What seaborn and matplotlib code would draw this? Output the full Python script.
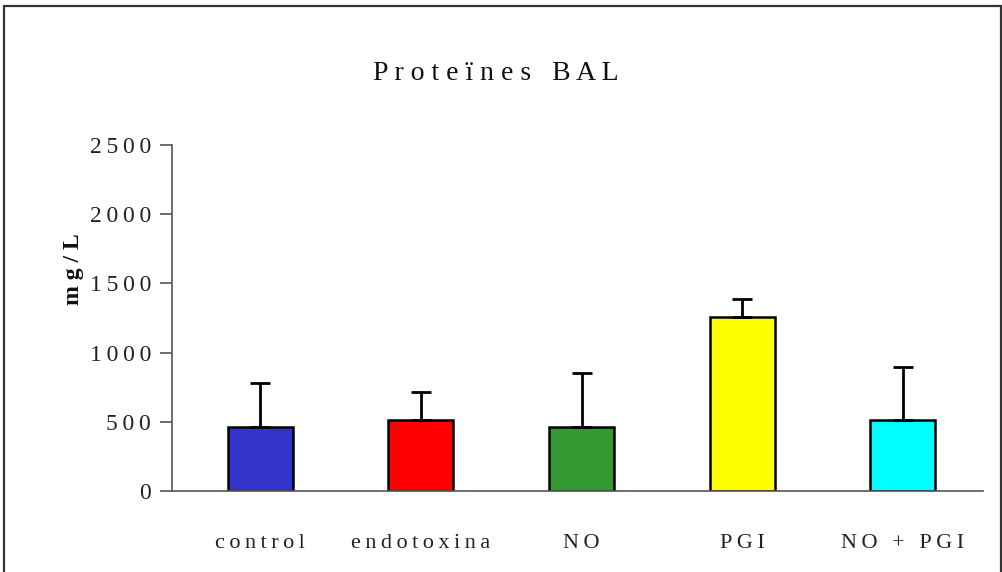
import matplotlib
matplotlib.use("Agg")
import matplotlib.pyplot as plt
from matplotlib.patches import Rectangle
import seaborn as sns
import pandas as pd

# Protein concentration in BAL fluid per treatment group (mean and SD)
groups = ["control", "endotoxina", "NO", "PGI", "NO+PGI"]
group_labels = ["control", "endotoxina", "NO", "PGI", "NO + PGI"]
means = [462, 513, 462, 1259, 515]
sds = [318, 202, 390, 128, 379]
colors = ["#3333CC", "#FF0000", "#339933", "#FFFF00", "#00FFFF"]
yticks = [0, 500, 1000, 1500, 2000, 2500]
title = "Proteïnes BAL"
ylabel = "mg/L"

THIN = "\u2009"


def spaced(text, gap=THIN):
    """Letter-spaced version of a label."""
    return gap.join(text)


sns.set_theme(style="white")
plt.rcParams["font.family"] = ["Liberation Serif", "DejaVu Serif"]

df = pd.DataFrame({"group": groups, "mean": means})

fig = plt.figure(figsize=(10.03, 5.72), dpi=100)
ax = fig.add_axes([172 / 1003, 81 / 572, 811 / 1003, 346 / 572])

sns.barplot(data=df, x="group", y="mean", hue="group", palette=colors,
            order=groups, hue_order=groups, legend=False, width=0.405,
            saturation=1, edgecolor="black", linewidth=1.8,
            errorbar=None, ax=ax)

ax.errorbar(range(len(groups)), means, yerr=[[0] * len(sds), sds],
            fmt="none", ecolor="black", elinewidth=2, capsize=7, capthick=2,
            zorder=1)

ax.set_xlim(-0.55, 4.5)
ax.set_ylim(0, 2500)
ax.set_yticks(yticks)
ax.set_yticklabels([spaced(str(v)) for v in yticks], fontsize=17,
                   color="#222222")
ax.set_xticks(range(len(groups)))
ax.set_xticklabels([spaced(g) for g in group_labels], fontsize=16,
                   color="#222222")
ax.tick_params(axis="x", length=0, pad=31)
ax.tick_params(axis="y", direction="out", length=9, width=1.2,
               color="#555555", pad=6, left=True)
ax.set_xlabel("")
ax.set_ylabel(spaced(ylabel, " "), fontsize=17, fontweight="bold",
              color="#111111")
ax.yaxis.set_label_coords(-0.108, 0.64)

for side in ["top", "right"]:
    ax.spines[side].set_visible(False)
for side in ["left", "bottom"]:
    ax.spines[side].set_color("#555555")
    ax.spines[side].set_linewidth(1.2)

fig.text(0.494, 1 - 73 / 572, spaced(title, " "), ha="center",
         va="center", fontsize=20, color="#111111")

# Outer frame around the chart area
fig.patches.append(Rectangle((4 / 1003, -0.1), 997 / 1003, 1 - 6 / 572 + 0.1,
                             transform=fig.transFigure, fill=False,
                             edgecolor="#333333", linewidth=1.6))

fig.savefig("out.png", dpi=100)
